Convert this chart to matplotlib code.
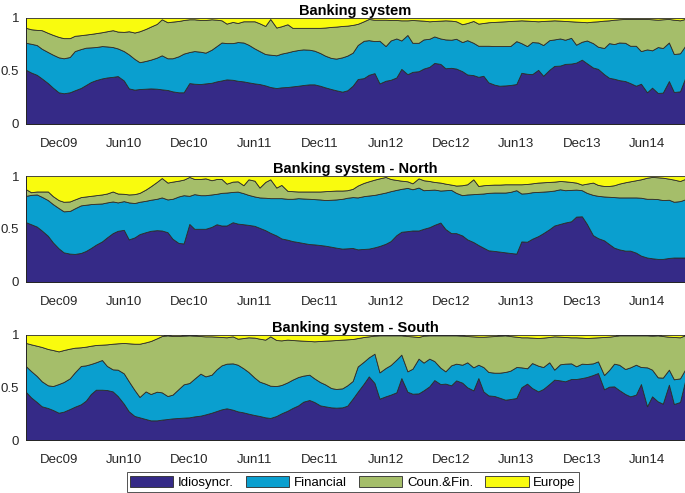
import numpy as np
import pandas as pd
import matplotlib
matplotlib.use("Agg")
import matplotlib.pyplot as plt
import matplotlib.dates as mdates

plt.rcParams['font.family'] = ['Liberation Sans', 'DejaVu Sans']

# semi-monthly observations, Sep 2009 - Sep 2014
dates = pd.date_range('2009-09-01', '2014-09-15', freq='SMS')

labels = ['Idiosyncr.', 'Financial', 'Coun.&Fin.', 'Europe']
colors = ['#352A87', '#0A9FCF', '#A5BE6A', '#F9FB0E']
titles = ['Banking system', 'Banking system - North', 'Banking system - South']

# cumulative levels:
# lvl1 = Idiosyncr., lvl2 = + Financial, lvl3 = + Coun.&Fin. (Europe fills to 1)
all_lvl1 = [
    0.511, 0.486, 0.464, 0.430, 0.386, 0.343, 0.299, 0.290, 0.299, 0.318,
    0.340, 0.368, 0.396, 0.414, 0.430, 0.439, 0.445, 0.452, 0.411, 0.336,
    0.324, 0.330, 0.333, 0.336, 0.333, 0.327, 0.321, 0.308, 0.299, 0.299,
    0.386, 0.380, 0.377, 0.383, 0.389, 0.402, 0.411, 0.421, 0.417, 0.408,
    0.402, 0.393, 0.383, 0.377, 0.364, 0.349, 0.339, 0.346, 0.349, 0.355,
    0.361, 0.368, 0.374, 0.374, 0.361, 0.346, 0.330, 0.318, 0.305, 0.318,
    0.361, 0.424, 0.433, 0.464, 0.480, 0.383, 0.408, 0.417, 0.439, 0.520,
    0.470, 0.492, 0.498, 0.523, 0.539, 0.576, 0.567, 0.526, 0.530, 0.523,
    0.498, 0.467, 0.461, 0.445, 0.455, 0.393, 0.371, 0.361, 0.364, 0.368,
    0.377, 0.483, 0.474, 0.470, 0.511, 0.455, 0.511, 0.548, 0.551, 0.567,
    0.570, 0.579, 0.607, 0.573, 0.533, 0.520, 0.470, 0.436, 0.427, 0.414,
    0.405, 0.386, 0.361, 0.380, 0.299, 0.343, 0.293, 0.296, 0.405, 0.302,
    0.308, 0.430]
all_lvl2 = [
    0.766, 0.757, 0.745, 0.710, 0.679, 0.654, 0.629, 0.620, 0.632, 0.688,
    0.707, 0.720, 0.723, 0.726, 0.735, 0.732, 0.726, 0.713, 0.688, 0.657,
    0.614, 0.583, 0.595, 0.607, 0.626, 0.648, 0.620, 0.620, 0.639, 0.664,
    0.679, 0.688, 0.682, 0.673, 0.701, 0.735, 0.769, 0.763, 0.763, 0.773,
    0.769, 0.748, 0.713, 0.688, 0.660, 0.654, 0.648, 0.664, 0.676, 0.688,
    0.698, 0.704, 0.701, 0.692, 0.670, 0.645, 0.623, 0.617, 0.629, 0.645,
    0.673, 0.745, 0.785, 0.791, 0.782, 0.785, 0.735, 0.788, 0.807, 0.788,
    0.840, 0.766, 0.766, 0.798, 0.804, 0.826, 0.807, 0.798, 0.795, 0.804,
    0.773, 0.791, 0.766, 0.738, 0.738, 0.738, 0.735, 0.735, 0.735, 0.735,
    0.782, 0.763, 0.735, 0.773, 0.769, 0.745, 0.791, 0.798, 0.807, 0.795,
    0.813, 0.748, 0.776, 0.788, 0.763, 0.729, 0.717, 0.763, 0.754, 0.769,
    0.766, 0.738, 0.738, 0.688, 0.704, 0.695, 0.726, 0.717, 0.769, 0.660,
    0.667, 0.735]
all_lvl3 = [
    0.907, 0.894, 0.888, 0.885, 0.860, 0.841, 0.822, 0.810, 0.810, 0.832,
    0.838, 0.844, 0.850, 0.857, 0.866, 0.875, 0.885, 0.872, 0.869, 0.875,
    0.863, 0.875, 0.897, 0.919, 0.944, 0.988, 0.960, 0.966, 0.972, 0.981,
    0.988, 0.988, 0.981, 0.981, 0.988, 0.984, 0.978, 0.947, 0.963, 0.953,
    0.969, 0.969, 0.969, 0.950, 0.925, 0.991, 0.910, 0.922, 0.941, 0.907,
    0.907, 0.907, 0.907, 0.907, 0.907, 0.910, 0.916, 0.919, 0.925, 0.928,
    0.935, 0.945, 0.969, 0.991, 0.984, 0.984, 0.984, 0.981, 0.981, 0.978,
    0.978, 0.981, 0.978, 0.975, 0.969, 0.972, 0.975, 0.978, 0.975, 0.969,
    0.941, 0.953, 0.972, 0.947, 0.953, 0.960, 0.963, 0.966, 0.969, 0.972,
    0.975, 0.978, 0.975, 0.972, 0.969, 0.972, 0.975, 0.978, 0.975, 0.972,
    0.969, 0.966, 0.963, 0.960, 0.966, 0.969, 0.975, 0.978, 0.984, 0.988,
    0.991, 0.991, 0.991, 0.991, 0.991, 0.988, 0.984, 0.988, 0.991, 0.984,
    0.978, 0.991]

north_lvl1 = [
    0.564, 0.545, 0.523, 0.486, 0.436, 0.374, 0.318, 0.280, 0.268, 0.265,
    0.274, 0.293, 0.321, 0.352, 0.383, 0.421, 0.461, 0.483, 0.492, 0.402,
    0.421, 0.452, 0.470, 0.483, 0.489, 0.486, 0.470, 0.408, 0.368, 0.364,
    0.548, 0.502, 0.502, 0.502, 0.520, 0.545, 0.533, 0.533, 0.564, 0.551,
    0.545, 0.539, 0.530, 0.511, 0.489, 0.464, 0.439, 0.411, 0.399, 0.386,
    0.377, 0.368, 0.358, 0.355, 0.349, 0.343, 0.333, 0.324, 0.315, 0.318,
    0.321, 0.308, 0.312, 0.315, 0.327, 0.340, 0.361, 0.386, 0.442, 0.474,
    0.480, 0.486, 0.486, 0.502, 0.517, 0.539, 0.561, 0.500, 0.461, 0.461,
    0.439, 0.402, 0.377, 0.349, 0.324, 0.299, 0.293, 0.287, 0.280, 0.274,
    0.268, 0.383, 0.380, 0.408, 0.433, 0.461, 0.498, 0.533, 0.548, 0.561,
    0.573, 0.617, 0.620, 0.548, 0.442, 0.414, 0.393, 0.358, 0.324, 0.308,
    0.296, 0.296, 0.277, 0.249, 0.231, 0.224, 0.218, 0.218, 0.227, 0.231,
    0.231, 0.231]
north_lvl2 = [
    0.813, 0.822, 0.826, 0.804, 0.773, 0.735, 0.698, 0.667, 0.670, 0.695,
    0.723, 0.729, 0.735, 0.738, 0.741, 0.751, 0.760, 0.751, 0.763, 0.751,
    0.745, 0.757, 0.766, 0.776, 0.785, 0.798, 0.779, 0.785, 0.807, 0.819,
    0.813, 0.829, 0.819, 0.819, 0.826, 0.832, 0.841, 0.844, 0.850, 0.853,
    0.838, 0.822, 0.807, 0.798, 0.795, 0.791, 0.791, 0.791, 0.785, 0.785,
    0.791, 0.788, 0.785, 0.782, 0.779, 0.773, 0.776, 0.779, 0.785, 0.795,
    0.801, 0.798, 0.810, 0.816, 0.822, 0.832, 0.844, 0.857, 0.869, 0.879,
    0.888, 0.875, 0.891, 0.866, 0.869, 0.872, 0.863, 0.866, 0.869, 0.841,
    0.819, 0.826, 0.829, 0.832, 0.835, 0.841, 0.844, 0.844, 0.844, 0.850,
    0.866, 0.835, 0.838, 0.847, 0.850, 0.853, 0.857, 0.863, 0.875, 0.866,
    0.869, 0.872, 0.866, 0.841, 0.822, 0.813, 0.807, 0.804, 0.801, 0.798,
    0.798, 0.798, 0.798, 0.795, 0.785, 0.785, 0.782, 0.773, 0.776, 0.757,
    0.763, 0.779]
north_lvl3 = [
    0.875, 0.847, 0.854, 0.854, 0.854, 0.810, 0.773, 0.757, 0.760, 0.779,
    0.801, 0.807, 0.813, 0.819, 0.826, 0.835, 0.854, 0.835, 0.832, 0.826,
    0.829, 0.841, 0.872, 0.903, 0.944, 0.981, 0.938, 0.947, 0.956, 0.966,
    0.991, 0.972, 0.972, 0.978, 0.960, 0.972, 0.972, 0.928, 0.947, 0.950,
    0.913, 0.969, 0.956, 0.891, 0.944, 0.969, 0.891, 0.916, 0.860, 0.857,
    0.854, 0.854, 0.854, 0.854, 0.854, 0.857, 0.860, 0.863, 0.863, 0.866,
    0.879, 0.910, 0.935, 0.950, 0.966, 0.978, 0.991, 0.972, 0.963, 0.956,
    0.950, 0.931, 0.978, 0.960, 0.953, 0.944, 0.938, 0.928, 0.919, 0.910,
    0.913, 0.922, 0.969, 0.906, 0.913, 0.916, 0.919, 0.919, 0.922, 0.922,
    0.922, 0.922, 0.925, 0.931, 0.938, 0.941, 0.944, 0.947, 0.953, 0.950,
    0.944, 0.938, 0.919, 0.928, 0.938, 0.916, 0.906, 0.906, 0.913, 0.928,
    0.941, 0.950, 0.960, 0.969, 0.984, 0.991, 0.988, 0.984, 0.975, 0.966,
    0.953, 0.972]

south_lvl1 = [
    0.457, 0.406, 0.362, 0.321, 0.305, 0.286, 0.260, 0.270, 0.295, 0.317,
    0.340, 0.375, 0.438, 0.479, 0.479, 0.476, 0.463, 0.419, 0.346, 0.273,
    0.229, 0.216, 0.200, 0.187, 0.187, 0.194, 0.200, 0.206, 0.210, 0.213,
    0.216, 0.225, 0.232, 0.244, 0.260, 0.276, 0.292, 0.302, 0.289, 0.273,
    0.263, 0.251, 0.238, 0.229, 0.216, 0.210, 0.229, 0.254, 0.279, 0.305,
    0.330, 0.365, 0.381, 0.362, 0.330, 0.321, 0.311, 0.308, 0.311, 0.327,
    0.394, 0.460, 0.537, 0.606, 0.543, 0.394, 0.416, 0.432, 0.454, 0.590,
    0.460, 0.441, 0.444, 0.473, 0.511, 0.571, 0.533, 0.537, 0.521, 0.568,
    0.546, 0.502, 0.473, 0.590, 0.463, 0.425, 0.419, 0.403, 0.384, 0.390,
    0.400, 0.502, 0.537, 0.495, 0.463, 0.486, 0.533, 0.575, 0.568, 0.559,
    0.581, 0.581, 0.590, 0.600, 0.619, 0.638, 0.483, 0.508, 0.511, 0.476,
    0.438, 0.416, 0.432, 0.533, 0.321, 0.416, 0.368, 0.346, 0.527, 0.343,
    0.362, 0.559]
south_lvl2 = [
    0.702, 0.657, 0.610, 0.559, 0.521, 0.514, 0.533, 0.552, 0.587, 0.644,
    0.705, 0.711, 0.724, 0.740, 0.762, 0.705, 0.673, 0.670, 0.635, 0.559,
    0.476, 0.410, 0.463, 0.438, 0.460, 0.454, 0.419, 0.432, 0.486, 0.530,
    0.543, 0.584, 0.632, 0.606, 0.622, 0.673, 0.711, 0.727, 0.730, 0.717,
    0.683, 0.648, 0.594, 0.556, 0.537, 0.517, 0.514, 0.524, 0.549, 0.575,
    0.600, 0.613, 0.622, 0.587, 0.552, 0.530, 0.495, 0.486, 0.492, 0.521,
    0.562, 0.700, 0.746, 0.787, 0.822, 0.644, 0.686, 0.714, 0.765, 0.813,
    0.654, 0.679, 0.775, 0.737, 0.775, 0.752, 0.689, 0.654, 0.711, 0.727,
    0.717, 0.740, 0.692, 0.717, 0.695, 0.648, 0.641, 0.641, 0.648, 0.660,
    0.695, 0.692, 0.683, 0.733, 0.708, 0.695, 0.740, 0.670, 0.721, 0.727,
    0.730, 0.702, 0.727, 0.724, 0.730, 0.749, 0.619, 0.667, 0.727, 0.717,
    0.676, 0.692, 0.717, 0.695, 0.692, 0.670, 0.597, 0.594, 0.670, 0.578,
    0.587, 0.670]
south_lvl3 = [
    0.924, 0.911, 0.898, 0.886, 0.867, 0.857, 0.844, 0.857, 0.870, 0.879,
    0.883, 0.889, 0.898, 0.905, 0.908, 0.911, 0.917, 0.921, 0.924, 0.921,
    0.917, 0.917, 0.930, 0.943, 0.968, 0.990, 0.997, 0.990, 0.990, 0.994,
    0.997, 0.994, 0.990, 0.987, 0.987, 0.984, 0.981, 0.978, 0.987, 0.965,
    0.971, 0.978, 0.975, 0.965, 0.956, 0.987, 0.952, 0.949, 0.956, 0.952,
    0.949, 0.946, 0.943, 0.940, 0.943, 0.946, 0.949, 0.952, 0.956, 0.959,
    0.962, 0.971, 0.981, 0.987, 0.994, 0.997, 0.997, 0.997, 0.997, 0.997,
    0.990, 0.987, 0.981, 0.994, 0.997, 0.997, 0.997, 0.997, 0.997, 0.997,
    0.994, 0.990, 0.987, 0.984, 0.984, 0.987, 0.990, 0.994, 0.997, 0.990,
    0.984, 0.978, 0.978, 0.975, 0.971, 0.975, 0.981, 0.987, 0.984, 0.981,
    0.978, 0.978, 0.975, 0.971, 0.975, 0.978, 0.981, 0.984, 0.990, 0.997,
    0.997, 0.997, 0.997, 0.997, 0.997, 0.994, 0.997, 0.990, 0.984, 0.981,
    0.978, 0.997]

panels = [
    (all_lvl1, all_lvl2, all_lvl3),
    (north_lvl1, north_lvl2, north_lvl3),
    (south_lvl1, south_lvl2, south_lvl3),
]

fig = plt.figure(figsize=(6.85, 4.93), dpi=100)
# [left, bottom, width, height] in figure fraction
boxes = [
    [0.038, 0.7485, 0.962, 0.2150],
    [0.038, 0.4280, 0.962, 0.2150],
    [0.038, 0.1075, 0.962, 0.2130],
]

tick_dates = pd.date_range('2009-12-01', '2014-06-01', freq='6MS')

for box, title, lv in zip(boxes, titles, panels):
    ax = fig.add_axes(box)
    levels = np.vstack([np.zeros(len(dates)), lv[0], lv[1], lv[2], np.ones(len(dates))])
    shares = np.diff(levels, axis=0)
    ax.stackplot(dates, shares, colors=colors, labels=labels,
                 edgecolor='#2b2b2b', linewidth=0.6)
    ax.set_xlim(dates[0], dates[-1])
    ax.set_ylim(0, 1)
    ax.set_yticks([0, 0.5, 1])
    ax.set_yticklabels(['0', '0.5', '1'])
    ax.set_xticks(tick_dates)
    ax.xaxis.set_major_formatter(mdates.DateFormatter('%b%y'))
    ax.tick_params(axis='both', length=0, labelsize=9.5, colors='#262626')
    ax.tick_params(axis='x', pad=10)
    ax.tick_params(axis='y', pad=5)
    ax.set_title(title, fontsize=10.5, fontweight='bold', pad=1)
    for side in ['top', 'right']:
        ax.spines[side].set_visible(False)
    for side in ['left', 'bottom']:
        ax.spines[side].set_color('#262626')
        ax.spines[side].set_linewidth(0.7)

handles, _ = ax.get_legend_handles_labels()
leg = fig.legend(handles, labels, loc='center', bbox_to_anchor=(0.515, 0.022),
                 ncol=4, fontsize=9.5, frameon=True, fancybox=False,
                 handlelength=3.3, handleheight=0.9, handletextpad=0.35,
                 columnspacing=0.9, borderpad=0.25, borderaxespad=0)
leg.get_frame().set_edgecolor('#262626')
leg.get_frame().set_linewidth(0.7)

fig.savefig('out.png', dpi=100)
